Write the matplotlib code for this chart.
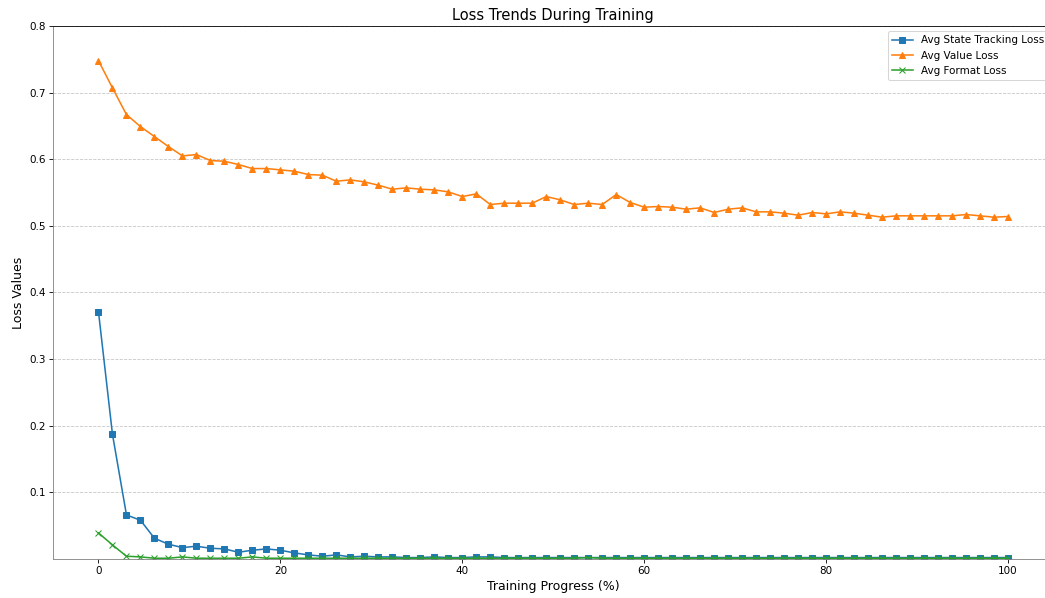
import numpy as np
import matplotlib
matplotlib.use("Agg")
import matplotlib.pyplot as plt

progress = np.linspace(0, 100, 66)

state_tracking_loss = [
    0.371, 0.187, 0.066, 0.058, 0.031, 0.022, 0.017, 0.019, 0.016, 0.015,
    0.010, 0.013, 0.015, 0.013, 0.009, 0.006, 0.004, 0.006, 0.003, 0.004,
    0.003, 0.003, 0.002, 0.002, 0.003, 0.002, 0.002, 0.003, 0.003, 0.002,
    0.002, 0.002, 0.002, 0.002, 0.002, 0.002, 0.002, 0.002, 0.002, 0.002,
    0.002, 0.002, 0.002, 0.002, 0.002, 0.002, 0.002, 0.002, 0.002, 0.002,
    0.002, 0.002, 0.002, 0.002, 0.002, 0.002, 0.002, 0.002, 0.002, 0.002,
    0.002, 0.002, 0.002, 0.002, 0.002, 0.002,
]

value_loss = [
    0.748, 0.707, 0.667, 0.649, 0.634, 0.619, 0.605, 0.607, 0.598, 0.597,
    0.592, 0.586, 0.586, 0.584, 0.582, 0.577, 0.576, 0.567, 0.569, 0.566,
    0.561, 0.555, 0.557, 0.555, 0.554, 0.551, 0.544, 0.548, 0.532, 0.534,
    0.534, 0.534, 0.544, 0.539, 0.532, 0.534, 0.532, 0.547, 0.535, 0.528,
    0.529, 0.528, 0.525, 0.527, 0.520, 0.525, 0.527, 0.521, 0.521, 0.519,
    0.516, 0.520, 0.518, 0.521, 0.519, 0.516, 0.513, 0.515, 0.515, 0.515,
    0.515, 0.515, 0.517, 0.515, 0.513, 0.514,
]

format_loss = [
    0.039, 0.021, 0.004, 0.003, 0.001, 0.001, 0.003, 0.001, 0.001, 0.001,
    0.001, 0.003, 0.001, 0.001, 0.001, 0.001, 0.001, 0.001, 0.001, 0.001,
    0.001, 0.001, 0.001, 0.001, 0.001, 0.001, 0.001, 0.001, 0.001, 0.001,
    0.001, 0.001, 0.001, 0.001, 0.001, 0.002, 0.001, 0.001, 0.001, 0.001,
    0.001, 0.001, 0.001, 0.001, 0.001, 0.001, 0.001, 0.001, 0.001, 0.001,
    0.001, 0.001, 0.001, 0.001, 0.001, 0.001, 0.001, 0.001, 0.001, 0.001,
    0.001, 0.001, 0.001, 0.001, 0.001, 0.001,
]

y_ticks = [0.1, 0.2, 0.3, 0.4, 0.5, 0.6, 0.7, 0.8]
x_ticks = [0, 20, 40, 60, 80, 100]

W, H, DPI = 1045, 598, 75
fig = plt.figure(figsize=(W / DPI, H / DPI), dpi=DPI)
ax = fig.add_axes([53 / W, (H - 558.9) / H, (1053.5 - 53) / W, (558.9 - 26) / H])

ax.plot(progress, state_tracking_loss, marker="s", color="#1f77b4", label="Avg State Tracking Loss")
ax.plot(progress, value_loss, marker="^", color="#ff7f0e", label="Avg Value Loss")
ax.plot(progress, format_loss, marker="x", color="#2ca02c", label="Avg Format Loss")

ax.set_xlim(-5, 105)
ax.set_ylim(0, 0.8)
ax.set_yticks(y_ticks)
ax.set_xticks(x_ticks)
ax.yaxis.grid(True, linestyle="--", color="#b0b0b0", alpha=0.7)
ax.set_axisbelow(True)
ax.spines["left"].set_color("#808080")
ax.spines["bottom"].set_color("#808080")

ax.set_title("Loss Trends During Training", fontsize=14)
ax.set_xlabel("Training Progress (%)", fontsize=12)
ax.set_ylabel("Loss Values", fontsize=12)
ax.tick_params(labelsize=10)
ax.legend(loc="upper right", fontsize=10)

fig.savefig("out.png", dpi=DPI)
